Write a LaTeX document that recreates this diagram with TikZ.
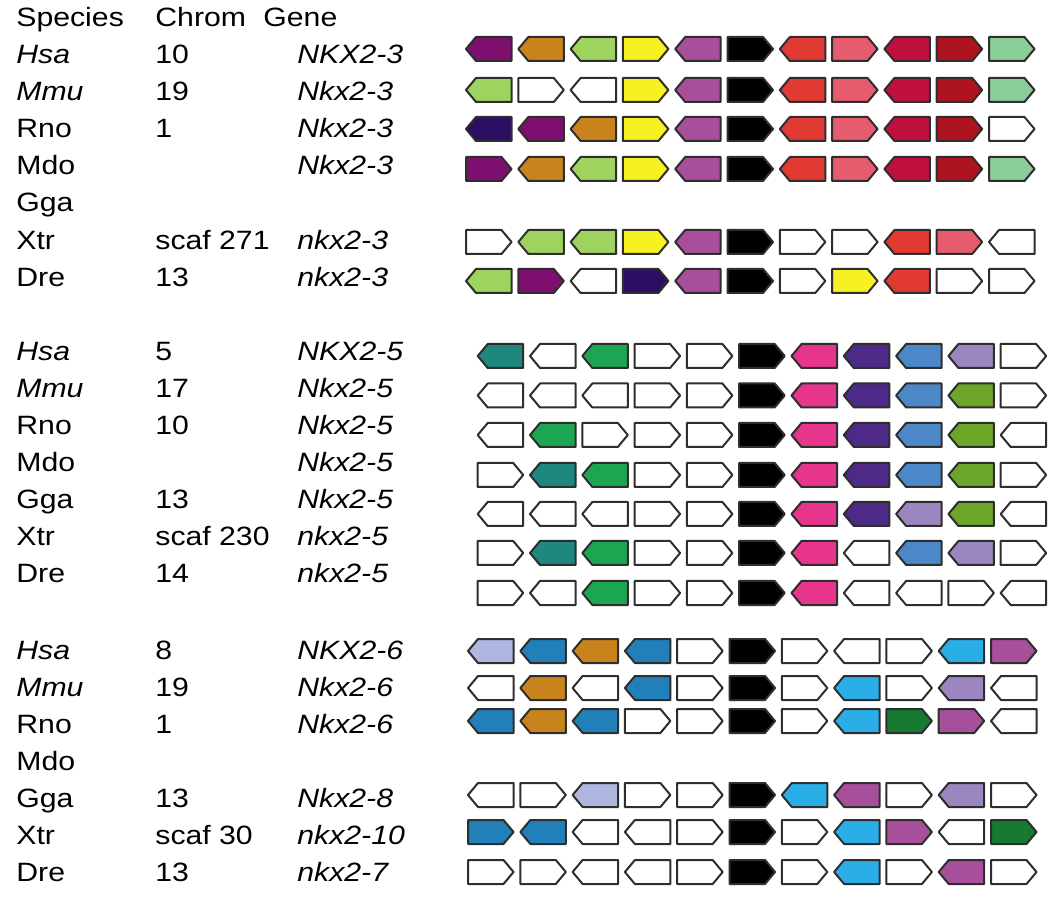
\documentclass[tikz,border=0pt]{standalone}
\usepackage{fontspec}
\setmainfont{Liberation Sans}[FakeStretch=1.14]
\definecolor{cPur}{HTML}{7E0F6F}
\definecolor{cOra}{HTML}{C8831C}
\definecolor{cLgr}{HTML}{9DD35E}
\definecolor{cYel}{HTML}{F7F022}
\definecolor{cOrc}{HTML}{A84F9C}
\definecolor{cRed}{HTML}{E03A32}
\definecolor{cPnk}{HTML}{E65B6E}
\definecolor{cCri}{HTML}{C0103E}
\definecolor{cDrd}{HTML}{AE1320}
\definecolor{cMnt}{HTML}{8ACD98}
\definecolor{cInd}{HTML}{2C0E63}
\definecolor{cTea}{HTML}{1D897E}
\definecolor{cGrn}{HTML}{1CA652}
\definecolor{cHpk}{HTML}{E6358B}
\definecolor{cVio}{HTML}{4E2A88}
\definecolor{cStb}{HTML}{4C87C7}
\definecolor{cLav}{HTML}{9C86C0}
\definecolor{cOli}{HTML}{6CA628}
\definecolor{cLlb}{HTML}{AFB6DF}
\definecolor{cMbl}{HTML}{2180B9}
\definecolor{cSky}{HTML}{2AAEE7}
\definecolor{cDgn}{HTML}{187A30}
\newcommand\geneRow[3]{%
  \foreach \d/\c [count=\i from 0] in {#3} {
    \draw[gene, fill=\c, shift={({#1+22.75+52.3*\i},#2)}, xscale=\d]
      (-22.75,-12) -- (12.75,-12) -- (22.75,0) -- (12.75,12) -- (-22.75,12) -- cycle;
  }}
\begin{document}
\begin{tikzpicture}[x=0.5pt,y=-0.5pt,
  gene/.style={draw=black!82, line width=1pt, line join=round},
  txt/.style={anchor=base west, inner sep=0pt, font=\fontsize{13.25pt}{15pt}\selectfont}]
\useasboundingbox (0,0) rectangle (1050,898);
% ---------- labels block 1
\node[txt] (hSp) at (16,26.5) {Species};
\node[txt] (hCh) at (155,26.5) {Chrom};
\node[txt] (hGe) at (263,26.5) {Gene};
\node[txt] (a1s) at (16,63.7) {\itshape Hsa};
\node[txt] (a1c) at (155,63.7) {10};
\node[txt] (a1g) at (297,63.7) {\itshape NKX2-3};
\node[txt] (a2s) at (16,100.8) {\itshape Mmu};
\node[txt] (a2c) at (155,100.8) {19};
\node[txt] (a2g) at (297,100.8) {\itshape Nkx2-3};
\node[txt] (a3s) at (16,138) {Rno};
\node[txt] (a3c) at (155,138) {1};
\node[txt] (a3g) at (297,138) {\itshape Nkx2-3};
\node[txt] (a4s) at (16,175) {Mdo};
\node[txt] (a4g) at (297,175) {\itshape Nkx2-3};
\node[txt] (a5s) at (16,212) {Gga};
\node[txt] (a6s) at (16,249.4) {Xtr};
\node[txt] (a6c) at (155,249.4) {scaf 271};
\node[txt] (a6g) at (297,249.4) {\itshape nkx2-3};
\node[txt] (a7s) at (16,286.6) {Dre};
\node[txt] (a7c) at (155,286.6) {13};
\node[txt] (a7g) at (297,286.6) {\itshape nkx2-3};
% ---------- labels block 2
\node[txt] (b1s) at (16,360.5) {\itshape Hsa};
\node[txt] (b1c) at (155,360.5) {5};
\node[txt] (b1g) at (297,360.5) {\itshape NKX2-5};
\node[txt] (b2s) at (16,397.5) {\itshape Mmu};
\node[txt] (b2c) at (155,397.5) {17};
\node[txt] (b2g) at (297,397.5) {\itshape Nkx2-5};
\node[txt] (b3s) at (16,434.5) {Rno};
\node[txt] (b3c) at (155,434.5) {10};
\node[txt] (b3g) at (297,434.5) {\itshape Nkx2-5};
\node[txt] (b4s) at (16,471.5) {Mdo};
\node[txt] (b4g) at (297,471.5) {\itshape Nkx2-5};
\node[txt] (b5s) at (16,508.5) {Gga};
\node[txt] (b5c) at (155,508.5) {13};
\node[txt] (b5g) at (297,508.5) {\itshape Nkx2-5};
\node[txt] (b6s) at (16,545.5) {Xtr};
\node[txt] (b6c) at (155,545.5) {scaf 230};
\node[txt] (b6g) at (297,545.5) {\itshape nkx2-5};
\node[txt] (b7s) at (16,582.5) {Dre};
\node[txt] (b7c) at (155,582.5) {14};
\node[txt] (b7g) at (297,582.5) {\itshape nkx2-5};
% ---------- labels block 3
\node[txt] (c1s) at (16,659.5) {\itshape Hsa};
\node[txt] (c1c) at (155,659.5) {8};
\node[txt] (c1g) at (297,659.5) {\itshape NKX2-6};
\node[txt] (c2s) at (16,696.5) {\itshape Mmu};
\node[txt] (c2c) at (155,696.5) {19};
\node[txt] (c2g) at (297,696.5) {\itshape Nkx2-6};
\node[txt] (c3s) at (16,733.5) {Rno};
\node[txt] (c3c) at (155,733.5) {1};
\node[txt] (c3g) at (297,733.5) {\itshape Nkx2-6};
\node[txt] (c4s) at (16,770.5) {Mdo};
\node[txt] (c5s) at (16,807.5) {Gga};
\node[txt] (c5c) at (155,807.5) {13};
\node[txt] (c5g) at (297,807.5) {\itshape Nkx2-8};
\node[txt] (c6s) at (16,844.5) {Xtr};
\node[txt] (c6c) at (155,844.5) {scaf 30};
\node[txt] (c6g) at (297,844.5) {\itshape nkx2-10};
\node[txt] (c7s) at (16,881.5) {Dre};
\node[txt] (c7c) at (155,881.5) {13};
\node[txt] (c7g) at (297,881.5) {\itshape nkx2-7};
% ---------- gene arrows block 1
\geneRow{466}{49}{-1/cPur,-1/cOra,-1/cLgr,1/cYel,-1/cOrc,1/black,-1/cRed,1/cPnk,-1/cCri,1/cDrd,1/cMnt}
\geneRow{466}{90}{-1/cLgr,1/white,-1/white,1/cYel,-1/cOrc,1/black,-1/cRed,1/cPnk,-1/cCri,1/cDrd,1/cMnt}
\geneRow{466}{129}{-1/cInd,-1/cPur,-1/cOra,1/cYel,-1/cOrc,1/black,-1/cRed,1/cPnk,-1/cCri,1/cDrd,1/white}
\geneRow{466}{169}{1/cPur,-1/cOra,-1/cLgr,1/cYel,-1/cOrc,1/black,-1/cRed,1/cPnk,-1/cCri,1/cDrd,1/cMnt}
\geneRow{466}{242}{1/white,-1/cLgr,-1/cLgr,1/cYel,-1/cOrc,1/black,1/white,1/white,-1/cRed,1/cPnk,-1/white}
\geneRow{466}{281}{-1/cLgr,1/cPur,-1/white,1/cInd,-1/cOrc,1/black,1/white,1/cYel,-1/cRed,1/white,1/white}
% ---------- gene arrows block 2
\geneRow{477.7}{356}{-1/cTea,-1/white,-1/cGrn,1/white,1/white,1/black,-1/cHpk,-1/cVio,-1/cStb,-1/cLav,1/white}
\geneRow{477.7}{395.5}{-1/white,-1/white,-1/white,1/white,1/white,1/black,-1/cHpk,-1/cVio,-1/cStb,-1/cOli,1/white}
\geneRow{477.7}{435}{-1/white,-1/cGrn,1/white,1/white,1/white,1/black,-1/cHpk,-1/cVio,-1/cStb,-1/cOli,-1/white}
\geneRow{477.7}{475}{1/white,-1/cTea,-1/cGrn,1/white,1/white,1/black,-1/cHpk,-1/cVio,-1/cStb,-1/cOli,1/white}
\geneRow{477.7}{514}{-1/white,-1/white,-1/white,1/white,1/white,1/black,-1/cHpk,-1/cVio,-1/cLav,-1/cOli,-1/white}
\geneRow{477.7}{553}{1/white,-1/cTea,-1/cGrn,1/white,1/white,1/black,-1/cHpk,-1/white,-1/cStb,-1/cLav,1/white}
\geneRow{477.7}{593}{1/white,-1/white,-1/cGrn,1/white,1/white,1/black,-1/cHpk,-1/white,-1/white,1/white,-1/white}
% ---------- gene arrows block 3
\geneRow{468}{651}{-1/cLlb,-1/cMbl,-1/cOra,-1/cMbl,1/white,1/black,1/white,-1/white,1/white,-1/cSky,1/cOrc}
\geneRow{468}{688}{-1/white,-1/cOra,-1/white,-1/cMbl,1/white,1/black,1/white,-1/cSky,1/white,-1/cLav,-1/white}
\geneRow{468}{721}{-1/cMbl,-1/cOra,-1/cMbl,1/white,1/white,1/black,1/white,-1/cSky,1/cDgn,1/cOrc,-1/white}
\geneRow{468}{795}{-1/white,1/white,-1/cLlb,1/white,1/white,1/black,-1/cSky,-1/cOrc,1/white,-1/cLav,1/white}
\geneRow{468}{832}{1/cMbl,-1/cMbl,-1/white,-1/white,1/white,1/black,1/white,-1/cSky,1/cOrc,-1/white,1/cDgn}
\geneRow{468}{872}{1/white,1/white,-1/white,-1/white,1/white,1/black,1/white,-1/cSky,1/white,-1/cOrc,1/white}
\end{tikzpicture}
\end{document}
